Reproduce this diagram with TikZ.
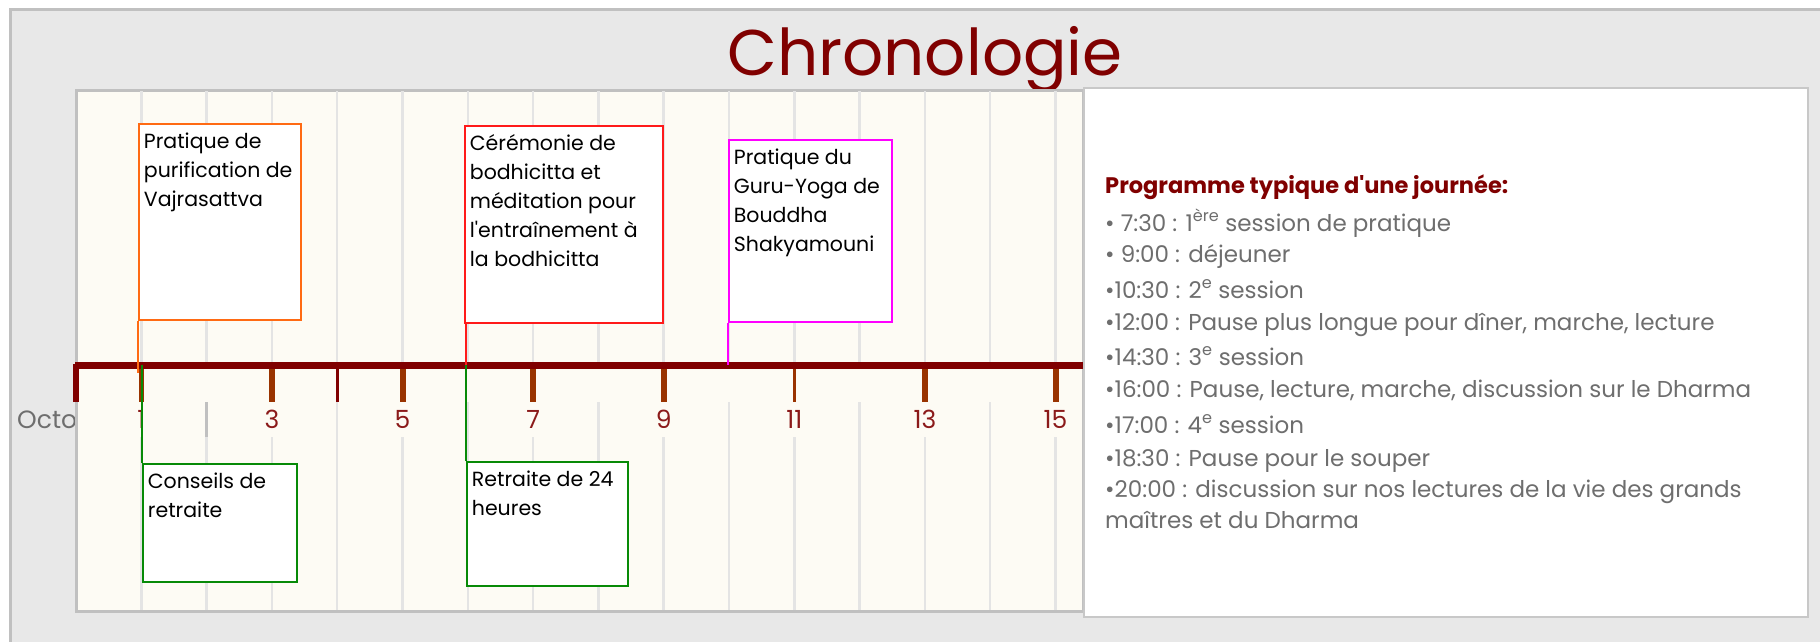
\documentclass[tikz,border=0pt]{standalone}
\usepackage{fontspec}
\setmainfont{Poppins}
\definecolor{frame gray}{HTML}{C0C0C0}
\definecolor{back gray}{HTML}{E8E8E8}
\definecolor{panel gray}{HTML}{C8C8C8}
\definecolor{cream}{HTML}{FDFBF4}
\definecolor{grid gray}{HTML}{E4E4E4}
\definecolor{axis red}{HTML}{800000}
\definecolor{tick brown}{HTML}{993300}
\definecolor{label red}{HTML}{8B1A1A}
\definecolor{text gray}{HTML}{6E6E6E}
\definecolor{ev orange}{HTML}{FF6A13}
\definecolor{ev red}{HTML}{FF1A1A}
\definecolor{ev magenta}{HTML}{FF00FF}
\definecolor{ev green}{HTML}{078A07}

\begin{document}
\begin{tikzpicture}[x=1pt, y=-1pt,
ev box/.style   = {draw=#1, line width=1.8pt, fill=white,
                   anchor=north west, inner xsep=5pt, inner ysep=9pt,
                   font=\fontsize{20.5}{29}\selectfont},
ev link/.style  = {draw=#1, line width=1.8pt},
grid line/.style = {grid gray, line width=2.5pt},
day label/.style = {anchor=base, text=label red, inner sep=0pt,
                    font=\fontsize{25}{25}\selectfont},
prog line/.style = {anchor=base west, inner sep=0pt, text=text gray,
                    font=\fontsize{23}{26}\selectfont}
                    ]
\useasboundingbox (0,0) rectangle (1820,642);
\clip (0,0) rectangle (1820,642);

% background and title
\draw[frame gray, line width=3pt, fill=back gray] (10,10) rectangle (1850,670);
\node[anchor=base, inner sep=0pt, text=axis red,
      font=\fontsize{64.5}{64.5}\selectfont] (title) at (925,76) {Chronologie};
\node[day label, anchor=base west, text=text gray] (month) at (17,428) {Octobre};

% timeline area
\draw[frame gray, line width=3pt, fill=cream] (76,90) rectangle (1083,611);
\foreach \d in {1,...,15}
    \draw[grid line] ({76+65.3*\d},91) -- ({76+65.3*\d},362);
\foreach \d in {2,4,...,14}
    \draw[grid line] ({76+65.3*\d},402) -- ({76+65.3*\d},610);
\foreach \d in {1,3,...,15}
    \draw[grid line] ({76+65.3*\d},437) -- ({76+65.3*\d},610);
\draw[frame gray, line width=3pt] ({76+65.3*2},402) -- ++(0,35);

% ticks, axis, day labels
\foreach \d/\w/\c in {0/6/axis red, 1/5/tick brown, 3/6/tick brown,
        4/3/axis red, 5/6/tick brown, 7/6/tick brown, 9/6/tick brown,
        11/3/tick brown, 13/6/tick brown, 15/6/tick brown}
    \draw[\c, line width=\w pt] ({76+65.3*\d},364) -- ({76+65.3*\d},402);
\draw[axis red, line width=7pt] (75,365.5) -- (1083,365.5);
\coordinate (axis mid) at (0,365);
\coordinate (axis bot) at (0,373);
\foreach \d in {1,3,...,15}
    \node[day label] (day\d) at ({76+65.3*\d},428) {\d};

% events
\node[ev box=ev orange] (vajra) at (138,123)
    {\parbox[t][178pt][t]{152pt}{Pratique de\\purification de\\Vajrasattva}};
\node[ev box=ev red] (bodhi) at (464,125)
    {\parbox[t][179pt][t]{188pt}{Cérémonie de\\bodhicitta et\\méditation pour\\l\textquotesingle entraînement à\\la bodhicitta}};
\node[ev box=ev magenta] (guru) at (728,139)
    {\parbox[t][164pt][t]{153pt}{Pratique du\\Guru-Yoga de\\Bouddha\\Shakyamouni}};
\node[ev box=ev green] (conseils) at (142,463)
    {\parbox[t][100pt][t]{144pt}{Conseils de\\retraite}};
\node[ev box=ev green] (retraite) at (466,461)
    {\parbox[t][106pt][t]{151pt}{Retraite de 24\\heures}};

\draw[ev link=ev orange] (vajra.south west) -- (vajra.south west |- axis bot);
\draw[ev link=ev green] (conseils.north west) -- (conseils.north west |- axis mid);
\draw[ev link=ev red] (retraite.north west |- bodhi.south) -- (retraite.north west |- axis mid);
\draw[ev link=ev green] (retraite.north west) -- (retraite.north west |- axis mid);
\draw[ev link=ev magenta] (guru.south west) -- (guru.south west |- axis mid);

% daily programme
\draw[panel gray, line width=2.5pt, fill=white] (1084,88) rectangle (1808,617);
\node[prog line, text=axis red, font=\fontsize{22.5}{26}\selectfont\bfseries]
    (prog0) at (1105,193) {Programme typique d\textquotesingle une journée:};
\foreach \y/\t [count=\i] in {
    231/{• 7:30 : 1\textsuperscript{ère} session de pratique},
    262/{• 9:00 : déjeuner},
    298/{•10:30 : 2\textsuperscript{e} session},
    330/{•12:00 : Pause plus longue pour dîner, marche, lecture},
    365/{•14:30 : 3\textsuperscript{e} session},
    397/{•16:00 : Pause, lecture, marche, discussion sur le Dharma},
    433/{•17:00 : 4\textsuperscript{e} session},
    466/{•18:30 : Pause pour le souper},
    497/{•20:00 : discussion sur nos lectures de la vie des grands},
    528/{maîtres et du Dharma}}
    \node[prog line] (prog\i) at (1105,\y) {\t};

\end{tikzpicture}
\end{document}
